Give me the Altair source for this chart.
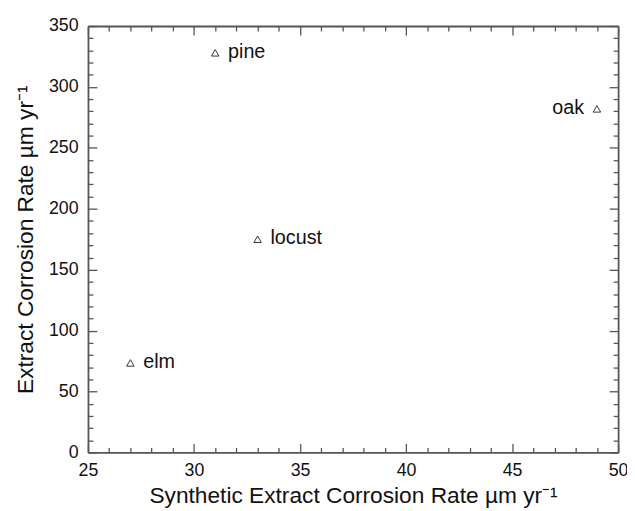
import altair as alt
import pandas as pd

species = ["pine", "oak", "locust", "elm"]
synthetic_rate = [31.0, 49.0, 33.0, 27.0]
extract_rate = [328, 282, 175, 73.5]
label_side = ["right", "left", "right", "right"]

x_ticks = list(range(25, 51))
y_ticks = list(range(0, 351, 10))

df = pd.DataFrame({
    "species": species,
    "synthetic": synthetic_rate,
    "extract": extract_rate,
    "side": label_side,
})

FONT = "Liberation Sans"
AX = "#555555"
TXT = "#111111"

xs = alt.Scale(domain=[25, 50], nice=False, zero=False)
ys = alt.Scale(domain=[0, 350], nice=False)

x_tick_size = {"condition": {"test": "datum.value % 5 === 0", "value": -9}, "value": -5}
y_tick_size = {"condition": {"test": "datum.value % 50 === 0", "value": -9}, "value": -5}

x_axis = alt.Axis(
    values=x_ticks,
    labelExpr="datum.value % 5 === 0 ? datum.label : ''",
    tickSize=x_tick_size, tickColor=AX, tickWidth=1.3,
    domainColor=AX, domainWidth=1.8,
    labelFont=FONT, labelFontSize=18, labelColor=TXT, labelPadding=18,
    title="Synthetic Extract Corrosion Rate \u00b5m yr\u207b\u00b9",
    titleFont=FONT, titleFontSize=23, titleFontWeight="normal", titleColor=TXT,
    titlePadding=2, grid=False, labelFlush=False, labelOverlap=False,
)
y_axis = alt.Axis(
    values=y_ticks,
    labelExpr="datum.value % 50 === 0 ? datum.label : ''",
    tickSize=y_tick_size, tickColor=AX, tickWidth=1.3,
    domainColor=AX, domainWidth=1.8,
    labelFont=FONT, labelFontSize=18, labelColor=TXT, labelPadding=19,
    title="Extract Corrosion Rate \u00b5m yr\u207b\u00b9",
    titleFont=FONT, titleFontSize=23, titleFontWeight="normal", titleColor=TXT,
    titlePadding=11, grid=False, labelFlush=False, labelOverlap=False,
)
x_axis_top = alt.Axis(
    orient="top", values=x_ticks, labels=False, title=None,
    tickSize=x_tick_size, tickColor=AX, tickWidth=1.3,
    domainColor=AX, domainWidth=1.8, grid=False,
)
y_axis_right = alt.Axis(
    orient="right", values=y_ticks, labels=False, title=None,
    tickSize=y_tick_size, tickColor=AX, tickWidth=1.3,
    domainColor=AX, domainWidth=1.8, grid=False,
)

base = alt.Chart(df)

points = base.mark_point(
    shape="triangle-up", filled=False, size=58, color="#333333", strokeWidth=1, opacity=1
).encode(
    x=alt.X("synthetic:Q", scale=xs, axis=x_axis),
    y=alt.Y("extract:Q", scale=ys, axis=y_axis),
)

labels_right = base.transform_filter(alt.datum.side == "right").mark_text(
    align="left", baseline="middle", dx=13, dy=-1, font=FONT, fontSize=20, color=TXT
).encode(
    x=alt.X("synthetic:Q", scale=xs, axis=None),
    y=alt.Y("extract:Q", scale=ys, axis=None),
    text="species:N",
)

labels_left = base.transform_filter(alt.datum.side == "left").mark_text(
    align="right", baseline="middle", dx=-13, dy=-1, font=FONT, fontSize=20, color=TXT
).encode(
    x=alt.X("synthetic:Q", scale=xs, axis=None),
    y=alt.Y("extract:Q", scale=ys, axis=None),
    text="species:N",
)

mirror = base.mark_point(opacity=0).encode(
    x=alt.X("synthetic:Q", scale=xs, axis=x_axis_top),
    y=alt.Y("extract:Q", scale=ys, axis=y_axis_right),
)

chart = alt.layer(points, labels_right, labels_left, mirror).resolve_axis(
    x="independent", y="independent"
).properties(
    width=537, height=432,
    autosize=alt.AutoSizeParams(type="none"),
    padding={"left": 81, "top": 15, "right": 9, "bottom": 54},
    background="white",
).configure_view(stroke=None)

chart.save("out.html", embed_options={"renderer": "svg", "actions": False})
